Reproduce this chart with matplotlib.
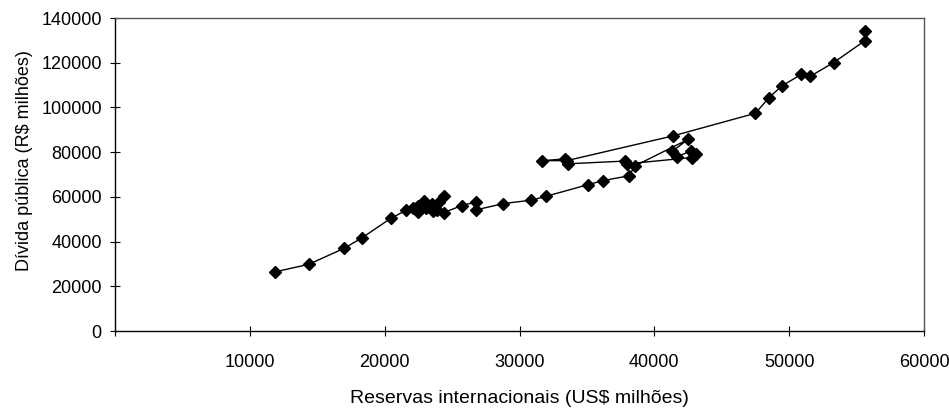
import matplotlib
matplotlib.use('Agg')
import matplotlib.pyplot as plt
from matplotlib import rcParams

rcParams['font.family'] = ['Liberation Sans', 'DejaVu Sans']

# reservas internacionais (US$ milhoes) e divida publica (R$ milhoes), em sequencia
reservas = [11900, 14350, 17000, 18350, 20450, 21600, 22100, 22500, 22500, 22900,
            23100, 23500, 23600, 24000, 24400, 23900, 24400, 25700, 26800, 26800,
            28800, 30850, 32000, 35100, 36200, 38100, 38600, 42500, 41300, 41700,
            42700, 43100, 42800, 38000, 37800, 33600, 33400, 31700, 33500, 41400,
            47500, 48500, 49450, 50900, 51550, 53300, 55600, 55600]
divida = [26500, 29800, 37000, 41800, 50400, 54000, 54800, 53200, 56000, 58000,
          55000, 56600, 53800, 57500, 60500, 54300, 53000, 56100, 57800, 54200,
          57000, 58500, 60300, 65500, 67300, 69400, 74000, 85700, 80300, 78000,
          80500, 79000, 77600, 74800, 76000, 74800, 77000, 76200, 76200, 87300,
          97400, 104400, 109600, 114800, 113900, 120100, 129800, 134200]

x_ticks = [0, 10000, 20000, 30000, 40000, 50000, 60000]
x_tick_labels = ['', '10000', '20000', '30000', '40000', '50000', '60000']
y_ticks = [0, 20000, 40000, 60000, 80000, 100000, 120000, 140000]

fig = plt.figure(figsize=(9.49, 4.16), dpi=100)
ax = fig.add_axes([0.1212, 0.2043, 0.8525, 0.7524])

ax.plot(reservas, divida, color='black', linewidth=1.0, marker='D',
        markersize=6.5, markerfacecolor='black', markeredgecolor='black')

ax.set_xlim(0, 60000)
ax.set_ylim(0, 140000)
ax.set_xticks(x_ticks)
ax.set_xticklabels(x_tick_labels)
ax.set_yticks(y_ticks)

ax.tick_params(axis='both', direction='inout', length=7, width=0.8,
               labelsize=13, colors='black')
ax.tick_params(axis='x', pad=13)
ax.tick_params(axis='y', pad=6)

for s in ['left', 'bottom']:
    ax.spines[s].set_color('black')
    ax.spines[s].set_linewidth(1.0)
for s in ['top', 'right']:
    ax.spines[s].set_color('#555555')
    ax.spines[s].set_linewidth(1.0)

fig.text(0.547, 0.041, 'Reservas internacionais (US$ milhões)', ha='center',
         va='center', fontsize=14)
fig.text(0.026, 0.613, 'Dívida pública (R$ milhões)', ha='center',
         va='center', rotation=90, fontsize=13)

fig.savefig('out.png', dpi=100)
